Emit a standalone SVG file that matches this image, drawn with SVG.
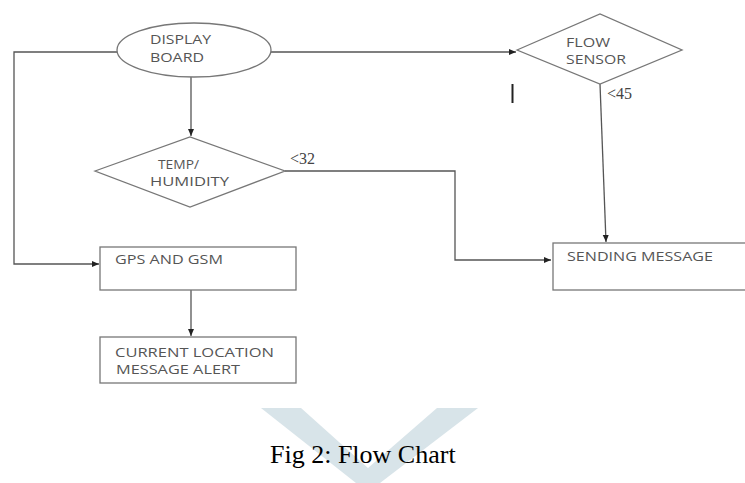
<svg xmlns="http://www.w3.org/2000/svg" width="745" height="483" viewBox="0 0 745 483">
<style>
.shape{fill:#fff;stroke:#777;stroke-width:1.3}
.lbl{font-family:"Open Sans","Liberation Sans",sans-serif;font-size:12.5px;fill:#555}
.num{font-family:"Liberation Serif",serif;font-size:16px;fill:#444}
.conn{fill:none;stroke:#555;stroke-width:1.3}
.cap{font-family:"Liberation Serif",serif;font-size:26px;fill:#000}
</style>
<defs>
<marker id="arr" markerWidth="8" markerHeight="8" refX="7" refY="4" orient="auto" markerUnits="userSpaceOnUse">
<path d="M0,1 L7,4 L0,7 Z" fill="#222"/>
</marker>
</defs>
<rect width="745" height="483" fill="#fff"/>
<polygon points="261,408 301,408 368,468 437,408 478,408 380,483 356,483" fill="#d8e4e9"/>
<g id="connectors">
<path class="conn" d="M117,52 H14 V264 H99" marker-end="url(#arr)"/>
<path class="conn" d="M191,77 V136" marker-end="url(#arr)"/>
<path class="conn" d="M271,52 H516" marker-end="url(#arr)"/>
<path class="conn" d="M285,171 H455 V260 H551" marker-end="url(#arr)"/>
<path class="conn" d="M600,84 L606,242" marker-end="url(#arr)"/>
<path class="conn" d="M191,290 V336" marker-end="url(#arr)"/>
</g>
<g id="display-board">
<ellipse class="shape" cx="194" cy="50" rx="77" ry="27"/>
<text class="lbl" x="150" y="44" textLength="61" lengthAdjust="spacingAndGlyphs">DISPLAY</text>
<text class="lbl" x="150" y="62" textLength="54" lengthAdjust="spacingAndGlyphs">BOARD</text>
</g>
<g id="temp-humidity">
<polygon class="shape" points="95,171 190,137 285,171 190,207"/>
<text class="lbl" x="158" y="169" textLength="41" lengthAdjust="spacingAndGlyphs">TEMP/</text>
<text class="lbl" x="150" y="186" textLength="79" lengthAdjust="spacingAndGlyphs">HUMIDITY</text>
<text class="num" x="290" y="164">&lt;32</text>
</g>
<g id="flow-sensor">
<polygon class="shape" points="517,50 600,14 682,50 600,84"/>
<text class="lbl" x="566" y="47" textLength="44" lengthAdjust="spacingAndGlyphs">FLOW</text>
<text class="lbl" x="566" y="64" textLength="60" lengthAdjust="spacingAndGlyphs">SENSOR</text>
<text class="num" x="607" y="99">&lt;45</text>
<line x1="512.5" y1="84" x2="512.5" y2="103" stroke="#222" stroke-width="2"/>
</g>
<g id="gps-gsm">
<rect class="shape" x="100" y="247" width="196" height="43"/>
<text class="lbl" x="115" y="264" textLength="108" lengthAdjust="spacingAndGlyphs">GPS AND GSM</text>
</g>
<g id="current-location">
<rect class="shape" x="100" y="337" width="196" height="46"/>
<text class="lbl" x="115" y="357" textLength="159" lengthAdjust="spacingAndGlyphs">CURRENT LOCATION</text>
<text class="lbl" x="116" y="374" textLength="124" lengthAdjust="spacingAndGlyphs">MESSAGE ALERT</text>
</g>
<g id="sending-message">
<rect class="shape" x="553" y="243" width="200" height="47"/>
<text class="lbl" x="567" y="261" textLength="146" lengthAdjust="spacingAndGlyphs">SENDING MESSAGE</text>
</g>
<text class="cap" x="270" y="463">Fig 2: Flow Chart</text>
</svg>
